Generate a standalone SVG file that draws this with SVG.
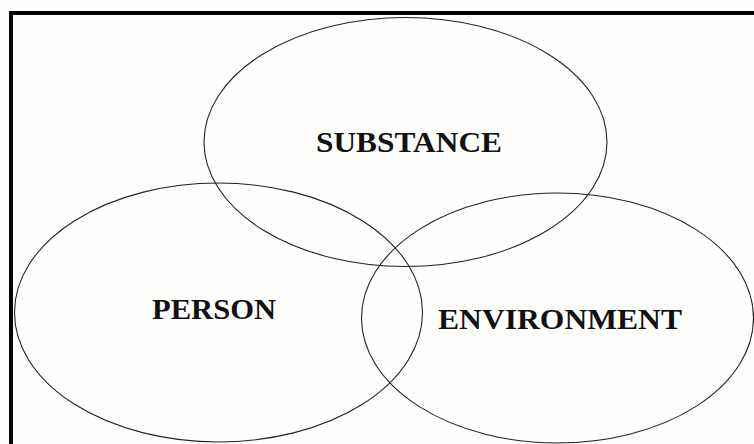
<svg xmlns="http://www.w3.org/2000/svg" width="754" height="444" viewBox="0 0 754 444">
<style>
.set{fill:none;stroke:#222;stroke-width:1.1}
.lbl{font-family:"Liberation Serif","Times New Roman",serif;font-weight:bold;font-size:30px;fill:#111;text-anchor:middle}
</style>
<rect x="0" y="0" width="754" height="444" fill="#fefefd"/>
<path d="M11,444 V13 H754" fill="none" stroke="#000" stroke-width="4"/>
<g id="substance">
<ellipse class="set" cx="405.5" cy="142" rx="201.5" ry="124.5"/>
<text class="lbl" x="409" y="152" textLength="186" lengthAdjust="spacingAndGlyphs">SUBSTANCE</text>
</g>
<g id="person">
<ellipse class="set" cx="218.5" cy="312.5" rx="204" ry="129.5"/>
<text class="lbl" x="214" y="319" textLength="124" lengthAdjust="spacingAndGlyphs">PERSON</text>
</g>
<g id="environment">
<ellipse class="set" cx="557.5" cy="318" rx="196" ry="125"/>
<text class="lbl" x="560" y="329" textLength="244" lengthAdjust="spacingAndGlyphs">ENVIRONMENT</text>
</g>
<g id="connectors"/>
</svg>
